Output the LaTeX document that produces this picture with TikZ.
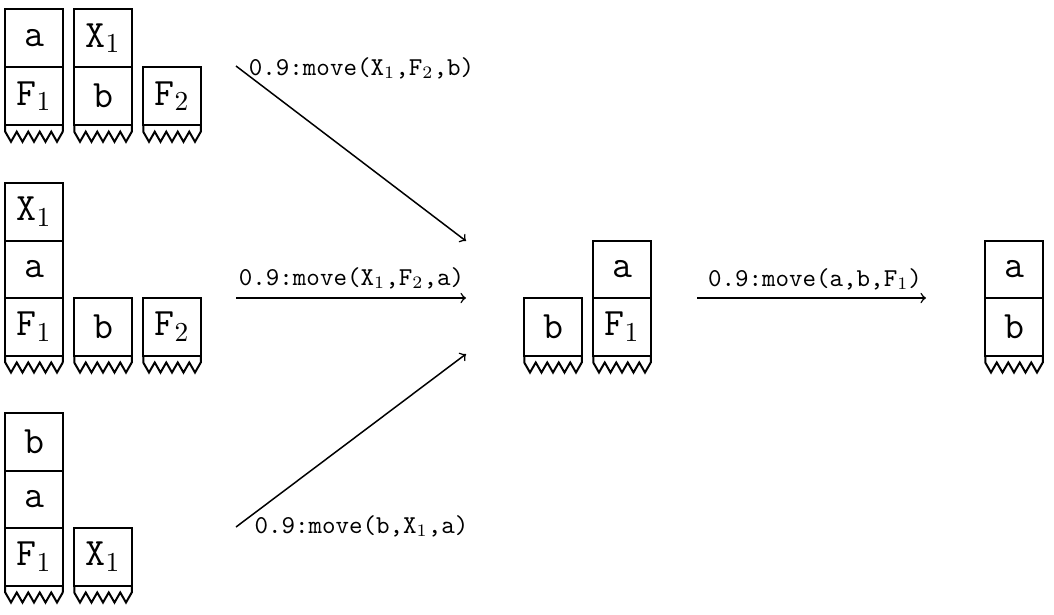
\documentclass[tikz,border=0pt]{standalone}
\tikzset{
  blk/.style={draw, line width=0.8pt, minimum width=23pt, minimum height=23pt, inner sep=0pt, outer sep=0pt, font=\fontsize{15.5}{18}\selectfont\ttfamily},
  lbl/.style={font=\fontsize{10.3}{12}\selectfont\ttfamily, inner sep=0pt},
  mv/.style={->, line width=0.6pt},
}
\newcommand\torn[1]{\draw[line width=0.8pt] (#1.south west) -- ++(0,7) \foreach \k in {1,...,5}{ -- ++(5.75,10) -- ++(5.75,-10)} -- (#1.south east);}
\begin{document}
\begin{tikzpicture}[x=0.4pt,y=-0.4pt]
\useasboundingbox (0,0) rectangle (1054,614);
% group 1
\node[blk] (g1a) at (34,38) {a};
\node[blk] (g1f) at (34,96) {F$_1$};
\node[blk] (g1x) at (103,38) {X$_1$};
\node[blk] (g1b) at (103,96) {b};
\node[blk] (g1g) at (172,96) {F$_2$};
\torn{g1f}\torn{g1b}\torn{g1g}
% group 2
\node[blk] (g2x) at (34,211.75) {X$_1$};
\node[blk] (g2a) at (34,269.25) {a};
\node[blk] (g2f) at (34,326.75) {F$_1$};
\node[blk] (g2b) at (103,326.75) {b};
\node[blk] (g2g) at (172,326.75) {F$_2$};
\torn{g2f}\torn{g2b}\torn{g2g}
% group 3
\node[blk] (g3b) at (34,441.75) {b};
\node[blk] (g3a) at (34,499.25) {a};
\node[blk] (g3f) at (34,556.75) {F$_1$};
\node[blk] (g3x) at (103,556.75) {X$_1$};
\torn{g3f}\torn{g3x}
% middle
\node[blk] (mb) at (553,326.75) {b};
\node[blk] (ma) at (622,269.25) {a};
\node[blk] (mf) at (622,326.75) {F$_1$};
\torn{mb}\torn{mf}
% right
\node[blk] (ra) at (1014,269.25) {a};
\node[blk] (rb) at (1014,326.75) {b};
\torn{rb}
% arrows
\coordinate (s1) at (236,66);  \coordinate (e1) at (466,241);
\coordinate (s2) at (236,298); \coordinate (e2) at (466,298);
\coordinate (s3) at (236,527); \coordinate (e3) at (466,354);
\coordinate (s4) at (697,298); \coordinate (e4) at (926,298);
\draw[mv] (s1) -- (e1);
\draw[mv] (s2) -- (e2);
\draw[mv] (s3) -- (e3);
\draw[mv] (s4) -- (e4);
\node[lbl] (l1) at (361.5,68) {0.9:move(X$_1$,F$_2$,b)};
\node[lbl] (l2) at (351.5,278) {0.9:move(X$_1$,F$_2$,a)};
\node[lbl] (l3) at (361.5,526) {0.9:move(b,X$_1$,a)};
\node[lbl] (l4) at (815,279) {0.9:move(a,b,F$_1$)};
\end{tikzpicture}
\end{document}
